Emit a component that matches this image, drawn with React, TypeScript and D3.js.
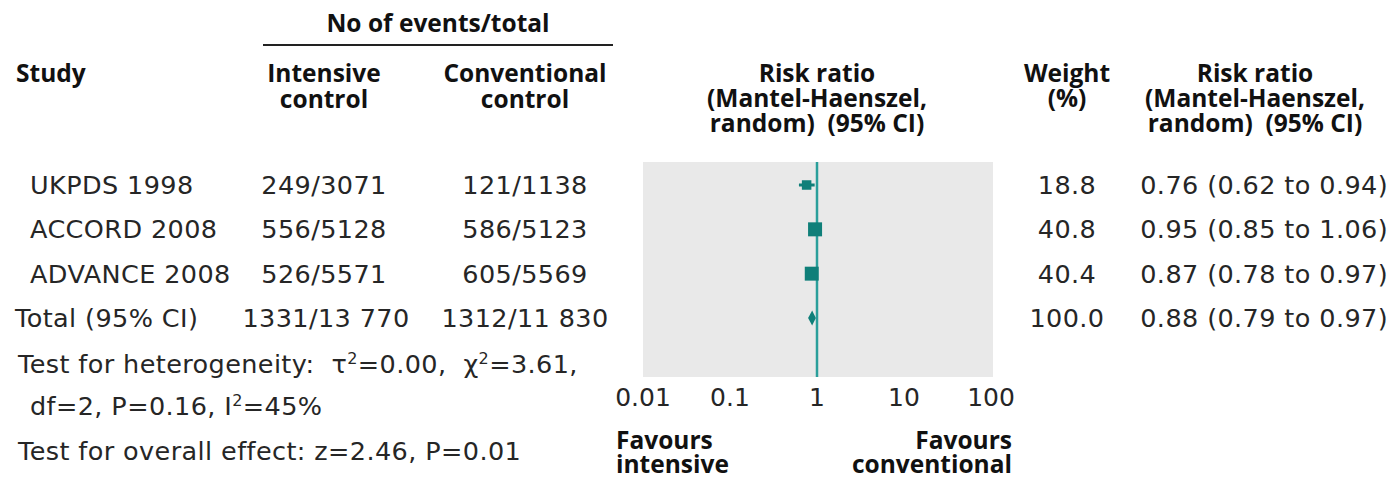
import React from "react";
import * as d3 from "d3";

// Trial rows
const studies = ["UKPDS 1998", "ACCORD 2008", "ADVANCE 2008"];
const intensiveEvents = [249, 556, 526];
const intensiveTotals = [3071, 5128, 5571];
const conventionalEvents = [121, 586, 605];
const conventionalTotals = [1138, 5123, 5569];
const weights = [18.8, 40.8, 40.4];
const riskRatios = [0.76, 0.95, 0.87];
const ciLower = [0.62, 0.85, 0.78];
const ciUpper = [0.94, 1.06, 0.97];

// Pooled estimate
const totalLabel = "Total (95% CI)";
const totalIntensive = [1331, 13770];
const totalConventional = [1312, 11830];
const totalWeight = 100.0;
const totalRR = 0.88;
const totalLower = 0.79;
const totalUpper = 0.97;

const axisTicks = [0.01, 0.1, 1, 10, 100];

const W = 1393;
const H = 481;

const regular = "'DejaVu Sans', sans-serif";
const bold = "'Open Sans', sans-serif";
const textColor = "#262626";
const markColor = "#0f7f79";
const lineColor = "#2a9f9b";
const panelColor = "#e9e9e9";

// thousands separated by a space, only for five-digit numbers and up
const fmtCount = (n: number) =>
  n >= 10000 ? d3.format(",")(n).replace(/,/g, " ") : String(n);
const fmtFrac = (e: number, t: number) => `${fmtCount(e)}/${fmtCount(t)}`;
const fmt2 = d3.format(".2f");
const fmt1 = d3.format(".1f");
const fmtTick = (v: number) => (v < 1 ? String(v) : d3.format("d")(v));
const sp2 = "\u00a0\u00a0";

// A multi-line label drawn as one text element with stacked tspans
function Lines({
  x,
  y,
  lines,
  anchor = "middle",
  step = 25,
}: {
  x: number;
  y: number;
  lines: string[];
  anchor?: "start" | "middle" | "end";
  step?: number;
}) {
  return (
    <text x={x} y={y} textAnchor={anchor}>
      {lines.map((l, i) => (
        <tspan key={i} x={x} dy={i === 0 ? 0 : step}>
          {l}
        </tspan>
      ))}
    </text>
  );
}

export default function App() {
  const x = d3.scaleLog().domain([0.01, 100]).range([643, 991]);
  const y = d3
    .scalePoint<string>()
    .domain([...studies, totalLabel])
    .range([185, 318]);

  const panelTop = 162;
  const panelBottom = 377;
  const rowFont = 25.5;

  const maxW = d3.max(weights) as number;
  const sq = d3.scaleSqrt().domain([0, maxW]).range([0, 14]);

  const colStudy = 30;
  const colInt = 324;
  const colConv = 525;
  const colWeight = 1067;
  const colRRRight = 1388;

  const headerBold = {
    fontFamily: bold,
    fontWeight: 700,
    fontSize: 24.5,
    fill: "#111",
  } as const;
  const rowText = {
    fontFamily: regular,
    fontSize: rowFont,
    letterSpacing: 0.4,
    fill: textColor,
  } as const;

  const dy = 9;
  const rrHeader = ["Risk ratio", "(Mantel-Haenszel,", `random)${sp2}(95% CI)`];

  return (
    <svg
      width={W}
      height={H}
      style={{ position: "absolute", left: 0, top: 0, background: "#fff" }}
    >
      {/* column headers */}
      <g {...headerBold}>
        <text x={438} y={32} textAnchor="middle">No of events/total</text>
        <text x={16} y={82}>Study</text>
        <Lines x={colInt} y={82} step={26} lines={["Intensive", "control"]} />
        <Lines x={colConv} y={82} step={26} lines={["Conventional", "control"]} />
        <Lines x={817} y={82} lines={rrHeader} />
        <Lines x={colWeight} y={82} lines={["Weight", "(%)"]} />
        <Lines x={1255} y={82} lines={rrHeader} />
      </g>
      <line x1={263} x2={613} y1={45} y2={45} stroke="#222" strokeWidth={2.2} />

      {/* plotting panel */}
      <rect
        x={x(0.01)}
        y={panelTop}
        width={x(100) - x(0.01) + 2}
        height={panelBottom - panelTop}
        fill={panelColor}
      />
      <line
        x1={x(1)}
        x2={x(1)}
        y1={panelTop}
        y2={panelBottom}
        stroke={lineColor}
        strokeWidth={2.5}
      />

      {/* study rows */}
      {studies.map((s, i) => {
        const cy = y(s) as number;
        const side = sq(weights[i]);
        return (
          <g key={s}>
            <text x={colStudy} y={cy + dy} {...rowText}>{s}</text>
            <text x={colInt} y={cy + dy} textAnchor="middle" {...rowText}>
              {fmtFrac(intensiveEvents[i], intensiveTotals[i])}
            </text>
            <text x={colConv} y={cy + dy} textAnchor="middle" {...rowText}>
              {fmtFrac(conventionalEvents[i], conventionalTotals[i])}
            </text>
            <text x={colWeight} y={cy + dy} textAnchor="middle" {...rowText}>
              {fmt1(weights[i])}
            </text>
            <text x={colRRRight} y={cy + dy} textAnchor="end" {...rowText}>
              {`${fmt2(riskRatios[i])} (${fmt2(ciLower[i])} to ${fmt2(ciUpper[i])})`}
            </text>
            <line
              x1={x(ciLower[i])}
              x2={x(ciUpper[i])}
              y1={cy}
              y2={cy}
              stroke={markColor}
              strokeWidth={3}
            />
            <rect
              x={x(riskRatios[i]) - side / 2}
              y={cy - side / 2}
              width={side}
              height={side}
              fill={markColor}
            />
          </g>
        );
      })}

      {/* pooled row */}
      {(() => {
        const cy = y(totalLabel) as number;
        const half = 7.5;
        const path = d3.line()([
          [x(totalLower), cy],
          [x(totalRR), cy - half],
          [x(totalUpper), cy],
          [x(totalRR), cy + half],
        ]);
        return (
          <g>
            <text x={15} y={cy + dy} {...rowText}>{totalLabel}</text>
            <text x={colInt + 2} y={cy + dy} textAnchor="middle" {...rowText}>
              {fmtFrac(totalIntensive[0], totalIntensive[1])}
            </text>
            <text x={colConv} y={cy + dy} textAnchor="middle" {...rowText}>
              {fmtFrac(totalConventional[0], totalConventional[1])}
            </text>
            <text x={colWeight} y={cy + dy} textAnchor="middle" {...rowText}>
              {fmt1(totalWeight)}
            </text>
            <text x={colRRRight} y={cy + dy} textAnchor="end" {...rowText}>
              {`${fmt2(totalRR)} (${fmt2(totalLower)} to ${fmt2(totalUpper)})`}
            </text>
            <path d={path + "Z"} fill={markColor} />
          </g>
        );
      })()}

      {/* heterogeneity and overall effect */}
      <g {...rowText}>
        <text x={18} y={373}>
          {`Test for heterogeneity:${sp2}τ`}
          <tspan dy={-9} fontSize={16}>2</tspan>
          <tspan dy={9}>{`=0.00,${sp2}χ`}</tspan>
          <tspan dy={-9} fontSize={16}>2</tspan>
          <tspan dy={9}>=3.61,</tspan>
        </text>
        <text x={30} y={415}>
          df=2, P=0.16, I<tspan dy={-9} fontSize={16}>2</tspan>
          <tspan dy={9}>=45%</tspan>
        </text>
        <text x={18} y={460}>Test for overall effect: z=2.46, P=0.01</text>
      </g>

      {/* log axis labels */}
      <g {...rowText} fontSize={25} letterSpacing={0}>
        {axisTicks.map((t) => (
          <text key={t} x={x(t)} y={406} textAnchor="middle">
            {fmtTick(t)}
          </text>
        ))}
      </g>
      <g {...headerBold}>
        <Lines x={616} y={449} step={24} anchor="start" lines={["Favours", "intensive"]} />
        <Lines x={1012} y={449} step={24} anchor="end" lines={["Favours", "conventional"]} />
      </g>
    </svg>
  );
}
